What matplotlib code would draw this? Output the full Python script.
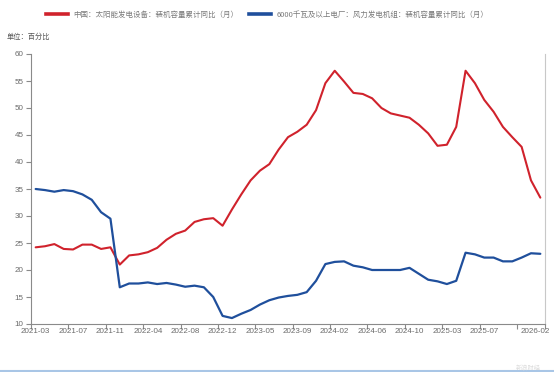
import matplotlib
matplotlib.use("Agg")
import matplotlib.pyplot as plt
from matplotlib.lines import Line2D
from matplotlib.transforms import ScaledTranslation
import numpy as np

# categories: months (no January data), 2021-03 .. 2026-02
months = []
for y in range(2021, 2027):
    for m in range(1, 13):
        if (y, m) < (2021, 3) or (y, m) > (2026, 2) or m == 1:
            continue
        months.append(f"{y}-{m:02d}")

solar = [24.2, 24.4, 24.8, 23.9, 23.8, 24.7, 24.7, 23.9, 24.2, 21.0,
         22.7, 22.9, 23.3, 24.1, 25.6, 26.7, 27.3, 28.9, 29.4, 29.6,
         28.2, 31.2, 34.0, 36.6, 38.4, 39.6, 42.3, 44.6, 45.6, 46.9,
         49.6, 54.6, 56.9, 54.9, 52.8, 52.6, 51.8, 50.0, 49.0, 48.6,
         48.2, 46.9, 45.3, 43.0, 43.2, 46.5, 56.9, 54.6, 51.5, 49.3,
         46.5, 44.6, 42.8, 36.6, 33.4]

wind = [35.0, 34.8, 34.5, 34.8, 34.6, 34.0, 33.0, 30.7, 29.5, 16.8,
        17.5, 17.5, 17.7, 17.4, 17.6, 17.3, 16.9, 17.1, 16.8, 15.0,
        11.5, 11.1, 11.9, 12.6, 13.6, 14.4, 14.9, 15.2, 15.4, 15.9,
        18.0, 21.1, 21.5, 21.6, 20.8, 20.5, 20.0, 20.0, 20.0, 20.0,
        20.4, 19.3, 18.2, 17.9, 17.4, 18.0, 23.2, 22.9, 22.3, 22.3,
        21.6, 21.6, 22.3, 23.1, 23.0]

solar_label = "中国：太阳能发电设备：装机容量累计同比（月）"
wind_label = "6000千瓦及以上电厂：风力发电机组：装机容量累计同比（月）"
unit_text = "单位：百分比"
y_ticks = [10, 15, 20, 25, 30, 35, 40, 45, 50, 55, 60]

plt.rcParams['font.family'] = ['Noto Sans CJK SC', 'DejaVu Sans']

RED = '#d0222c'
BLUE = '#1f4f9c'
GREY = '#8a8a8a'
TXT = '#6a6a6a'

W, H = 554, 372
fig = plt.figure(figsize=(W / 100, H / 100), dpi=100)
ax = fig.add_axes([31 / W, 1 - 324 / H, (545 - 31) / W, (324 - 54) / H])

x = np.arange(len(months))
ax.plot(x, solar, color=RED, lw=1.5, solid_joinstyle='round', solid_capstyle='round')
ax.plot(x, wind, color=BLUE, lw=1.6, solid_joinstyle='round', solid_capstyle='round')

ax.set_xlim(-0.5, len(months) - 0.5)
ax.set_ylim(10, 60)

# ticks at category boundaries, labels at category centres
tick_pos = [i - 0.5 for i in range(0, len(months), 4)] + [len(months) - 0.5]
ax.set_xticks(tick_pos)
ax.set_xticklabels([])
ax.tick_params(axis='x', which='major', length=3.5, color=GREY, width=0.8)
lab_idx = list(range(0, 49, 4)) + [len(months) - 1]
ax.set_xticks(lab_idx, minor=True)
labs = ax.set_xticklabels([months[i] for i in lab_idx], minor=True,
                          fontsize=5.8, color=TXT,
                          family=['Liberation Sans Narrow', 'Liberation Sans'])
ax.tick_params(axis='x', which='minor', length=0, pad=3)
labs[-1].set_transform(labs[-1].get_transform() +
                       ScaledTranslation(-5 / 100, 0, fig.dpi_scale_trans))

ax.set_yticks(y_ticks)
ax.set_yticklabels([str(v) for v in y_ticks], fontsize=5.8, color=TXT,
                   family=['Liberation Sans Narrow', 'Liberation Sans'])
ax.tick_params(axis='y', length=3.5, color=GREY, width=0.8, pad=2)

for s in ['left', 'bottom', 'right']:
    ax.spines[s].set_color(GREY)
    ax.spines[s].set_linewidth(0.8)
ax.spines['right'].set_color('#c8c8c8')
ax.spines['top'].set_visible(False)

handles = [Line2D([0], [0], color=RED, lw=2.6), Line2D([0], [0], color=BLUE, lw=2.6)]
fig.legend(handles, [solar_label, wind_label], loc='center', ncol=2,
           bbox_to_anchor=(267 / W, 1 - 15 / H), frameon=False,
           fontsize=5.4, labelcolor='#7a7a7a', handlelength=3.0, handletextpad=0.7,
           columnspacing=1.4)

fig.text(7 / W, 1 - 37 / H, unit_text, fontsize=5.2, color='#555555', va='center')
fig.text(528 / W, 1 - 367 / H, "新浪财经", fontsize=4.5, color='#dddddd', ha='center', va='center')

fig.add_artist(Line2D([0, 1], [1.5 / H, 1.5 / H], transform=fig.transFigure,
                      color='#a9c6e6', lw=1.5))

fig.savefig('out.png', dpi=100, facecolor='white')
